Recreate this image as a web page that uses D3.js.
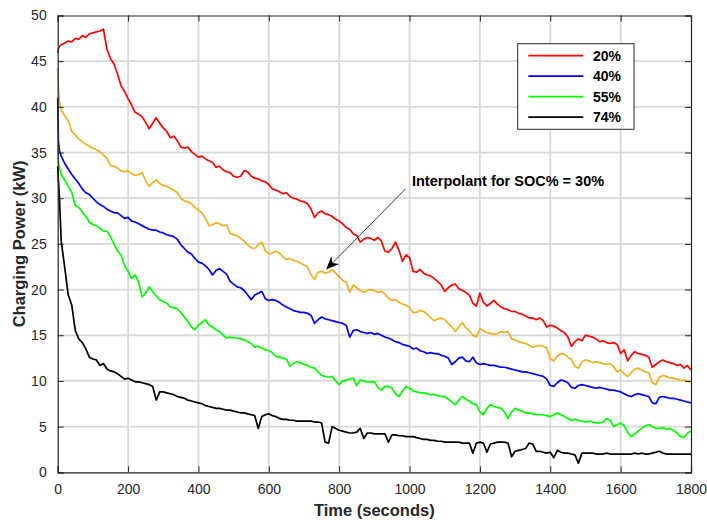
<!DOCTYPE html>
<html><head><meta charset="utf-8">
<script src="https://cdn.jsdelivr.net/npm/d3@7"></script>
<style>html,body{margin:0;padding:0;background:#fff;}svg{display:block;font-family:"Liberation Sans",Arial,sans-serif;}</style>
</head><body>
<svg id="chart" width="707" height="520"></svg>
<script>
// time grid (seconds)
const times = [0, 2, 5].concat(d3.range(10, 1801, 10));

const soc20 = [45.9,46.4,46.6,
46.8,47.0,47.2,47.1,47.5,47.4,47.8,47.6,48.0,48.1,
48.2,48.3,48.5,46.3,45.3,44.7,43.6,42.3,41.7,40.9,
40.2,39.4,39.2,38.9,38.3,37.6,38.2,38.8,38.2,37.7,
37.3,36.6,36.8,36.3,35.6,35.5,35.6,35.1,34.8,34.5,
34.6,34.3,34.1,33.9,33.4,33.5,33.1,32.9,32.8,32.4,
32.3,32.4,33.0,32.9,32.4,32.2,32.1,31.9,31.8,31.5,
31.0,30.9,30.7,30.5,30.6,30.2,30.0,29.9,29.7,29.6,
29.4,28.8,27.9,28.4,28.6,28.3,28.2,28.0,27.7,27.5,
27.2,26.8,26.6,26.1,25.9,25.2,25.5,25.7,25.6,25.4,
25.7,25.3,24.2,24.1,24.5,25.2,24.3,23.1,23.8,23.5,
22.0,21.9,22.2,21.8,21.6,21.5,21.2,20.9,20.5,19.8,
20.2,20.5,20.6,20.1,19.9,19.7,19.4,18.5,18.2,19.6,
18.6,18.2,18.5,18.8,18.4,18.1,17.9,17.8,17.6,17.6,
17.4,17.3,17.1,16.9,16.9,16.7,16.9,16.6,15.9,16.1,
16.0,15.8,15.5,15.3,14.8,13.8,14.3,14.6,14.4,15.0,
14.9,14.8,14.6,14.3,14.4,14.2,14.1,14.2,14.0,13.0,
13.4,12.2,12.8,13.2,13.0,12.9,12.8,12.6,11.5,11.8,
12.1,12.3,12.1,12.0,11.9,11.7,11.8,11.4,11.7,11.2];

const soc30 = [44.2,42.0,40.5,
39.7,39.0,38.5,37.3,36.9,36.5,36.2,35.9,35.7,35.5,
35.3,35.1,34.7,34.4,33.6,33.5,33.3,33.0,32.9,33.0,
32.7,32.5,32.6,32.8,31.9,31.3,31.7,32.0,31.6,31.4,
31.3,31.1,30.9,30.6,30.0,29.7,29.6,29.4,29.0,28.7,
28.4,27.8,27.0,27.1,27.3,27.2,27.0,27.1,26.2,26.0,
25.9,25.6,25.3,24.9,24.6,24.5,24.9,25.2,24.3,23.9,
24.0,24.2,24.0,23.6,23.3,23.4,23.2,23.1,22.9,22.7,
22.5,21.6,21.1,21.9,22.0,21.8,21.9,22.2,21.8,21.4,
21.0,20.8,19.7,20.5,20.2,19.9,19.7,19.9,20.0,19.9,
19.7,19.8,19.5,19.1,18.8,18.9,18.6,18.4,18.3,18.0,
17.5,17.5,17.7,17.6,17.3,16.9,16.6,16.8,16.9,16.7,
16.3,15.9,15.4,15.9,16.4,15.8,15.5,15.0,14.8,15.7,
15.5,15.3,15.2,15.1,15.2,15.4,15.3,15.4,14.6,14.5,
14.3,14.2,14.1,13.9,13.7,13.8,13.9,13.8,13.6,12.4,
12.2,12.7,13.0,12.9,12.6,12.4,11.6,11.4,12.1,12.3,
12.2,12.0,12.1,12.0,11.9,11.8,11.9,11.6,11.0,11.2,
10.8,10.5,10.9,11.3,11.4,11.2,11.0,10.9,9.8,9.6,
10.4,10.6,10.5,10.3,10.3,10.2,10.1,10.1,10.0,9.9];

const soc40 = [41.0,36.2,35.2,
34.6,33.8,33.2,32.6,32.1,31.6,31.0,30.6,30.4,30.0,
29.6,29.3,29.1,28.8,28.6,28.4,28.4,28.1,27.8,27.9,
27.5,27.4,27.2,27.0,26.8,26.6,26.5,26.5,26.3,26.2,
26.0,25.9,25.8,25.5,24.9,24.5,24.1,23.9,23.4,23.0,
22.9,22.6,22.2,21.6,22.1,22.3,22.0,21.7,20.9,20.6,
20.3,20.2,19.9,19.4,18.9,19.4,19.6,19.8,19.0,18.8,
18.9,18.8,18.6,18.3,18.1,17.9,17.7,17.6,17.5,17.5,
17.4,17.2,16.3,16.7,17.0,16.8,16.7,16.6,16.5,16.4,
16.3,16.1,14.8,15.5,15.6,15.4,15.3,15.2,15.3,15.1,
15.2,15.0,14.8,14.7,14.5,14.3,14.2,14.0,13.9,13.8,
13.5,13.6,13.3,13.2,13.0,13.1,13.0,13.0,12.8,12.7,
12.5,11.8,12.1,12.5,12.6,12.2,12.1,12.6,12.0,11.8,
11.9,11.8,11.7,11.7,11.6,11.5,11.5,11.4,11.3,11.2,
11.1,11.0,11.0,10.9,10.8,10.7,10.6,10.5,10.2,9.5,
9.4,9.8,10.1,10.0,9.8,9.3,9.2,9.5,9.6,9.5,
9.4,9.3,9.2,9.3,9.2,9.1,9.0,9.0,8.9,8.8,
8.6,8.4,8.3,8.5,8.6,8.5,8.4,8.3,7.6,7.5,
8.2,8.3,8.2,8.1,8.1,8.0,7.9,7.8,7.7,7.6];

const soc55 = [35.8,34.0,33.3,
32.6,32.0,31.3,30.6,29.2,29.0,28.5,28.0,27.4,27.1,
27.0,26.7,26.4,26.4,25.8,25.0,24.2,23.8,22.6,22.0,
21.2,21.6,20.8,19.2,19.6,20.3,19.8,19.3,18.9,18.7,
18.5,18.1,18.0,17.9,17.5,17.0,16.5,15.9,15.6,16.1,
16.4,16.7,16.1,15.9,15.6,15.4,15.0,14.7,14.8,14.7,
14.7,14.6,14.5,14.3,14.1,13.7,13.8,13.6,13.4,13.3,
13.1,12.7,12.6,12.5,12.4,11.6,11.9,12.1,12.0,11.8,
11.7,11.5,11.4,11.0,10.6,10.5,10.4,10.5,10.0,9.6,
10.0,10.1,10.2,10.3,9.5,10.1,10.0,9.9,9.9,9.9,
9.3,9.0,9.4,9.4,9.2,8.6,8.3,8.9,9.4,9.2,
8.9,8.8,8.7,8.7,8.6,8.5,8.5,8.4,8.3,8.3,
8.0,7.7,7.4,7.9,8.3,8.0,7.8,7.5,7.4,6.6,
6.3,7.0,7.4,7.2,7.1,7.0,6.6,5.9,6.6,7.0,
6.8,6.7,6.5,6.5,6.4,6.3,6.3,6.3,6.2,6.1,
6.3,6.5,6.3,6.1,5.9,5.7,5.8,5.7,5.6,5.5,
5.6,5.5,5.4,5.4,5.5,5.9,5.7,5.0,5.2,5.4,
5.1,4.4,3.9,4.2,4.5,4.8,5.1,5.2,5.0,4.8,
4.8,4.9,4.7,4.8,4.6,4.3,3.9,3.8,4.3,4.5];

const soc74 = [33.5,32.0,30.0,
25.3,22.4,19.4,18.3,15.5,14.6,14.2,13.5,12.6,12.4,
12.3,11.7,11.9,11.3,11.1,11.0,10.8,10.5,10.2,10.3,
10.1,9.9,9.9,9.8,9.7,9.6,9.4,7.9,8.8,8.8,
8.7,8.6,8.5,8.3,8.2,8.1,7.9,7.8,7.7,7.6,
7.5,7.3,7.2,7.1,7.0,7.0,6.9,6.8,6.8,6.7,
6.6,6.5,6.5,6.4,6.3,6.2,4.8,6.1,6.3,6.4,
6.2,6.1,5.9,5.8,5.8,5.7,5.7,5.6,5.6,5.6,
5.6,5.6,5.5,5.5,5.4,3.3,3.2,5.0,4.8,4.6,
4.5,4.4,4.3,4.3,4.4,4.8,3.7,4.3,4.3,4.2,
4.2,4.2,4.2,3.3,4.1,4.1,4.0,4.0,3.9,3.9,
3.9,3.8,3.7,3.6,3.6,3.5,3.5,3.4,3.4,3.3,
3.3,3.3,3.3,3.3,3.2,3.2,3.2,2.1,3.2,3.3,
3.2,2.2,3.1,3.2,3.3,3.3,3.3,3.2,1.7,2.3,
2.4,2.5,2.6,3.2,3.1,2.3,2.3,2.2,2.1,2.2,
1.6,2.4,2.2,2.1,2.1,2.0,1.9,1.0,2.1,2.1,
2.1,2.1,2.0,2.0,2.0,2.1,2.0,2.0,2.0,2.0,
2.0,2.0,2.0,2.1,2.0,2.1,2.0,2.0,2.1,2.2,
2.3,2.1,2.0,2.0,2.0,2.0,2.0,2.0,2.0,2.0];

const xTicks = [0,200,400,600,800,1000,1200,1400,1600,1800];
const yTicks = [0,5,10,15,20,25,30,35,40,45,50];
const legendLabels = ["20%","40%","55%","74%"];
const annotationText = "Interpolant for SOC% = 30%";
const annotationTail = [988, 31.0];
const annotationTip = [763, 22.2];
const annotationTextPos = [1007, 31.9];

const series = [
  {name:"20%", values:soc20, color:"#ff0000"},
  {name:"40%", values:soc40, color:"#0000ff"},
  {name:"55%", values:soc55, color:"#00ff00"},
  {name:"74%", values:soc74, color:"#000000"},
  {name:"30%", values:soc30, color:"#edb120"}
];

const svg = d3.select("#chart");
const m = {left:57.7, top:15.5, right:707-691, bottom:520-472.3};
const W = 707 - m.left - m.right, H = 520 - m.top - m.bottom;
const g = svg.append("g").attr("transform", `translate(${m.left},${m.top})`);
const x = d3.scaleLinear().domain([0,1800]).range([0,W]);
const y = d3.scaleLinear().domain([0,50]).range([H,0]);
const axisColor = "#262626";

// grid
g.append("g").selectAll("line").data(xTicks.slice(1,-1)).join("line")
  .attr("x1",d=>x(d)).attr("x2",d=>x(d)).attr("y1",0).attr("y2",H)
  .attr("stroke","#d9d9d9").attr("stroke-width",1.8);
g.append("g").selectAll("line").data(yTicks.slice(1,-1)).join("line")
  .attr("y1",d=>y(d)).attr("y2",d=>y(d)).attr("x1",0).attr("x2",W)
  .attr("stroke","#d9d9d9").attr("stroke-width",1.8);

// data lines
const line = d3.line().x((d,i)=>x(times[i])).y(d=>y(d));
series.forEach(s=>{
  g.append("path").datum(s.values).attr("d",line)
    .attr("fill","none").attr("stroke",s.color).attr("stroke-width",1.7)
    .attr("stroke-linejoin","round");
});

// axes (inward ticks, box)
const fmt = d3.format("d");
const xAxis = g.append("g").attr("transform",`translate(0,${H})`)
  .call(d3.axisBottom(x).tickValues(xTicks).tickSize(-6).tickPadding(12).tickFormat(fmt));
const xAxisTop = g.append("g")
  .call(d3.axisTop(x).tickValues(xTicks).tickSize(-6).tickFormat(""));
const yAxis = g.append("g")
  .call(d3.axisLeft(y).tickValues(yTicks).tickSize(-6).tickPadding(11).tickFormat(fmt));
const yAxisRight = g.append("g").attr("transform",`translate(${W},0)`)
  .call(d3.axisRight(y).tickValues(yTicks).tickSize(-6).tickFormat(""));
[xAxis,xAxisTop,yAxis,yAxisRight].forEach(a=>{
  a.select(".domain").attr("stroke",axisColor).attr("stroke-width",1.2);
  a.selectAll(".tick line").attr("stroke",axisColor).attr("stroke-width",1);
  a.selectAll(".tick text").attr("fill",axisColor).attr("font-size",14)
    .attr("font-family",'"Liberation Sans",Arial,sans-serif');
});

// axis titles
svg.append("text").attr("x", m.left + W/2).attr("y", 516)
  .attr("text-anchor","middle").attr("font-weight","bold").attr("font-size",16.5)
  .attr("fill",axisColor).text("Time (seconds)");
svg.append("text").attr("transform",`translate(25,${m.top+H/2}) rotate(-90)`)
  .attr("text-anchor","middle").attr("font-weight","bold").attr("font-size",16.5)
  .attr("fill",axisColor).text("Charging Power (kW)");

// legend
const lg = svg.append("g");
lg.append("rect").attr("x",517.7).attr("y",43.7).attr("width",116.3).attr("height",85.6)
  .attr("fill","#fff").attr("stroke",axisColor).attr("stroke-width",1);
series.slice(0,4).forEach((s,i)=>{
  const yy = 55.7 + i*20.5;
  lg.append("line").attr("x1",528.3).attr("x2",583.3).attr("y1",yy).attr("y2",yy)
    .attr("stroke",s.color).attr("stroke-width",1.7);
  lg.append("text").attr("x",593).attr("y",yy).attr("dy","0.35em")
    .attr("font-weight","bold").attr("font-size",14).attr("fill","#000").text(legendLabels[i]);
});

// annotation
const tx = x(annotationTail[0]), ty = y(annotationTail[1]);
const hx = x(annotationTip[0]), hy = y(annotationTip[1]);
const ang = Math.atan2(hy-ty, hx-tx);
const L = 13, Wd = 5.5, notch = 9;
g.append("line").attr("x1",tx).attr("y1",ty)
  .attr("x2",hx - Math.cos(ang)*notch).attr("y2",hy - Math.sin(ang)*notch)
  .attr("stroke","#000").attr("stroke-width",0.8);
const p = (a,b)=>[hx + Math.cos(ang)*a - Math.sin(ang)*b, hy + Math.sin(ang)*a + Math.cos(ang)*b];
g.append("path").attr("d", d3.line()([p(0,0), p(-L,-Wd), p(-notch,0), p(-L,Wd)]) + "Z")
  .attr("fill","#000");
g.append("text").attr("x",x(annotationTextPos[0])).attr("y",y(annotationTextPos[1]))
  .attr("dy","0.35em").attr("font-weight","bold").attr("font-size",14.5).attr("fill","#000")
  .text(annotationText);
</script>
</body></html>
